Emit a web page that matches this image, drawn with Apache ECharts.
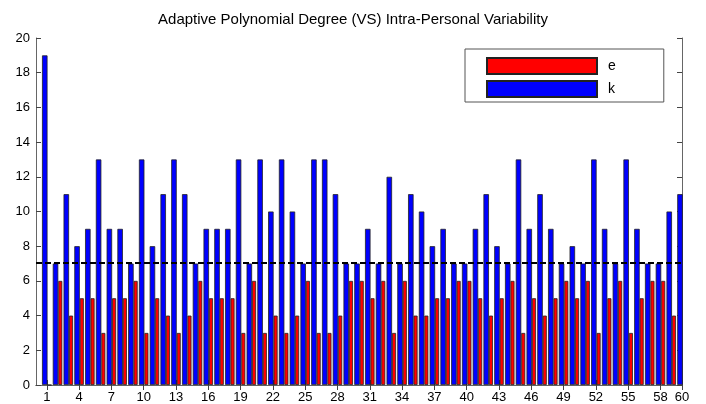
<!DOCTYPE html>
<html>
<head>
<meta charset="utf-8">
<script src="https://cdn.jsdelivr.net/npm/echarts@6/dist/echarts.min.js"></script>
<style>
html, body { margin: 0; padding: 0; background: #fff; }
#chart { width: 706px; height: 404px; }
</style>
</head>
<body>
<div id="chart"></div>
<script>
// values per subject (1..60)
var kValues = [19, 7, 11, 8, 9, 13, 9, 9, 7, 13, 8, 11, 13, 11, 7, 9, 9, 9, 13, 7,
    13, 10, 13, 10, 7, 13, 13, 11, 7, 7, 9, 7, 12, 7, 11, 10, 8, 9, 7, 7,
    9, 11, 8, 7, 13, 9, 11, 9, 7, 8, 7, 13, 9, 7, 13, 9, 7, 7, 10, 11];
// last red bar falls outside the frame in the original, so it is left out
var eValues = [0, 6, 4, 5, 5, 3, 5, 5, 6, 3, 5, 4, 3, 4, 6, 5, 5, 5, 3, 6,
    3, 4, 3, 4, 6, 3, 3, 4, 6, 6, 5, 6, 3, 6, 4, 4, 5, 5, 6, 6,
    5, 4, 5, 6, 3, 5, 4, 5, 6, 5, 6, 3, 5, 6, 3, 5, 6, 6, 4, '-'];
var threshold = 7.05;
var categories = [];
for (var i = 0; i <= 60; i++) {
    categories.push(String(i));
}
var yTicks = { min: 0, max: 20, interval: 2 };

var font = 'Liberation Sans, Arial, Helvetica, sans-serif';

function showTick(index) {
    return index >= 1 && ((index - 1) % 3 === 0 || index === 60);
}

var myChart = echarts.init(document.getElementById('chart'));

var xBase = {
    type: 'category',
    data: categories,
    boundaryGap: false,
    axisLine: { lineStyle: { color: '#666', width: 1 } },
    axisTick: { inside: true, length: 5, interval: showTick, lineStyle: { color: '#444' } },
    splitLine: { show: false }
};
var yBase = {
    type: 'value',
    min: yTicks.min,
    max: yTicks.max,
    interval: yTicks.interval,
    axisLine: { show: true, lineStyle: { color: '#666', width: 1 } },
    axisTick: { show: true, inside: true, length: 5, lineStyle: { color: '#444' } },
    splitLine: { show: false }
};

var option = {
    animation: false,
    backgroundColor: '#fff',
    textStyle: { fontFamily: font },
    title: {
        text: 'Adaptive Polynomial Degree (VS) Intra-Personal Variability',
        left: 'center',
        top: 12,
        padding: 0,
        textStyle: { fontSize: 15, fontWeight: 'normal', color: '#000', fontFamily: font }
    },
    grid: { left: 36, right: 24, top: 38, bottom: 19 },
    legend: {
        data: ['e', 'k'],
        icon: 'rect',
        orient: 'vertical',
        left: 465,
        top: 49,
        itemWidth: 110,
        itemHeight: 16,
        itemGap: 5,
        padding: [8, 48, 4, 21],
        backgroundColor: '#fff',
        borderColor: '#555',
        borderWidth: 1,
        textStyle: { fontSize: 14, color: '#000', fontFamily: font, padding: [0, 0, 0, 6] }
    },
    xAxis: [
        Object.assign({}, xBase, {
            position: 'bottom',
            axisLabel: { interval: showTick, color: '#000', fontSize: 13, margin: 6, fontFamily: font }
        }),
        Object.assign({}, xBase, {
            position: 'top',
            axisLabel: { show: false }
        })
    ],
    yAxis: [
        Object.assign({}, yBase, {
            position: 'left',
            axisLabel: { color: '#000', fontSize: 13, margin: 6, fontFamily: font }
        }),
        Object.assign({}, yBase, {
            position: 'right',
            axisLabel: { show: false }
        })
    ],
    series: [
        {
            name: 'k',
            type: 'bar',
            xAxisIndex: 0,
            yAxisIndex: 0,
            barWidth: 5.5,
            barGap: '0%',
            clip: true,
            itemStyle: { color: '#0000ff', borderColor: '#222', borderWidth: 0.8 },
            data: ['-'].concat(kValues),
            markLine: {
                silent: true,
                symbol: 'none',
                label: { show: false },
                lineStyle: { color: '#000', type: [6, 3], width: 2 },
                data: [{ yAxis: threshold }]
            }
        },
        {
            name: 'e',
            type: 'bar',
            xAxisIndex: 0,
            yAxisIndex: 0,
            barWidth: 4,
            barGap: '0%',
            clip: true,
            itemStyle: { color: '#ff0000', borderColor: '#222', borderWidth: 0.8 },
            data: ['-'].concat(eValues)
        }
    ]
};

myChart.setOption(option);
</script>
</body>
</html>
